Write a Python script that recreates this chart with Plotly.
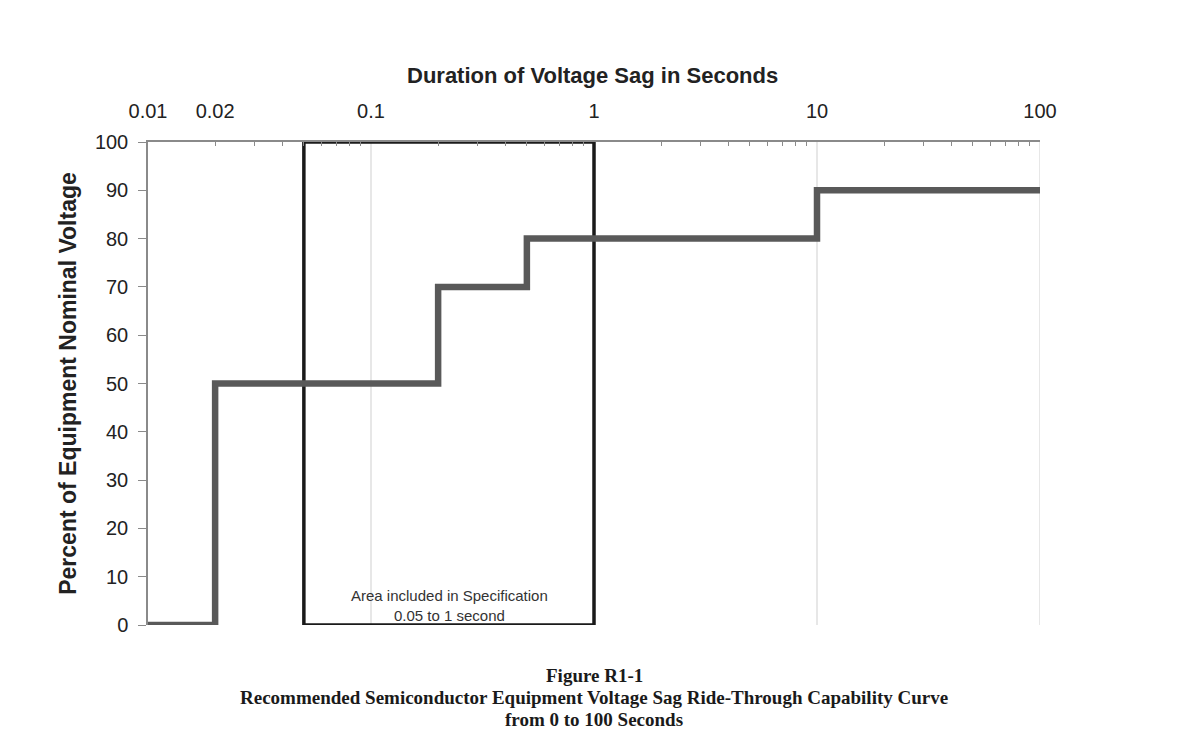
import plotly.graph_objects as go

# Step curve: duration (s) where each level begins, and the % nominal voltage level
step_durations = [0.01, 0.02, 0.2, 0.5, 10, 100]
step_levels = [0, 50, 70, 80, 90, 90]

# Specification area (seconds) and voltage span
spec_start = 0.05
spec_end = 1
spec_low = 0
spec_high = 100

x_tick_vals = [0.01, 0.02, 0.1, 1, 10, 100]
x_tick_text = ["0.01", "0.02", "0.1", "1", "10", "100"]
y_tick_vals = [0, 10, 20, 30, 40, 50, 60, 70, 80, 90, 100]
grid_decades = [0.1, 1, 10, 100]
decades = [0.01, 0.1, 1, 10]
minor_tick_vals = [d * m for d in decades for m in range(2, 10)]

fig = go.Figure()

for g in grid_decades:
    fig.add_shape(type="line", xref="x", yref="paper", x0=g, x1=g, y0=0, y1=1,
                  line=dict(color="#cfcfcf", width=1), layer="below")

fig.add_trace(go.Scatter(
    x=[spec_start, spec_start, spec_end, spec_end, spec_start],
    y=[spec_low, spec_high, spec_high, spec_low, spec_low],
    mode="lines", line=dict(color="#1a1a1a", width=3.5),
    hoverinfo="skip", showlegend=False, cliponaxis=False))

fig.add_trace(go.Scatter(
    x=step_durations, y=step_levels, mode="lines", line_shape="hv",
    line=dict(color="#595959", width=6.5), showlegend=False, cliponaxis=False))

axis_font = dict(family="Liberation Sans, Arial", size=20, color="#222")

fig.update_xaxes(
    type="log", range=[-2, 2], side="top", automargin=False,
    tickvals=x_tick_vals, ticktext=x_tick_text,
    ticks="", showgrid=False, zeroline=False,
    showline=True, linecolor="#8a8a8a", linewidth=1.5,
    tickfont=axis_font, ticklabelstandoff=14,
    minor=dict(tickvals=minor_tick_vals, ticks="inside", ticklen=4,
               tickcolor="#8a8a8a", showgrid=False),
)
fig.update_yaxes(
    range=[0, 100], tickvals=y_tick_vals, automargin=False,
    ticks="outside", ticklen=8, tickcolor="#8a8a8a",
    showgrid=False, zeroline=False,
    showline=True, linecolor="#8a8a8a", linewidth=1.5,
    tickfont=axis_font, ticklabelstandoff=6,
    title=dict(text="<b>Percent of Equipment Nominal Voltage</b>",
               font=dict(family="Liberation Sans, Arial", size=23, color="#222"),
               standoff=12),
)

fig.add_annotation(text="<b>Duration of Voltage Sag in Seconds</b>", xref="paper", yref="paper",
                   x=0.498, y=1, yanchor="middle", yshift=67, showarrow=False,
                   font=dict(family="Liberation Sans, Arial", size=22, color="#222"))

fig.add_annotation(text="Area included in Specification<br>0.05 to 1 second",
                   xref="x", yref="y", x=-0.646, y=4.1, showarrow=False,
                   font=dict(family="Liberation Sans, Arial", size=15, color="#333"),
                   align="center")

caption_font = dict(family="Liberation Serif, Times New Roman", size=19, color="#1a1a1a")
fig.add_annotation(text="<b>Figure R1-1</b>", xref="paper", yref="paper",
                   x=0.5, y=0, yanchor="middle", yshift=-50, showarrow=False, font=caption_font)
fig.add_annotation(text="<b>Recommended Semiconductor Equipment Voltage Sag Ride-Through Capability Curve</b>",
                   xref="paper", yref="paper", x=0.5, y=0, yanchor="middle", yshift=-72,
                   showarrow=False, font=caption_font)
fig.add_annotation(text="<b>from 0 to 100 Seconds</b>", xref="paper", yref="paper",
                   x=0.5, y=0, yanchor="middle", yshift=-94, showarrow=False, font=caption_font)

# page body adds an 8px offset; margins compensate so the plot area lands where the reference has it
fig.update_layout(
    width=1193, height=731,
    margin=dict(l=140, r=161, t=134, b=114),
    paper_bgcolor="white", plot_bgcolor="white",
    showlegend=False,
)

fig.write_html("out.html")
